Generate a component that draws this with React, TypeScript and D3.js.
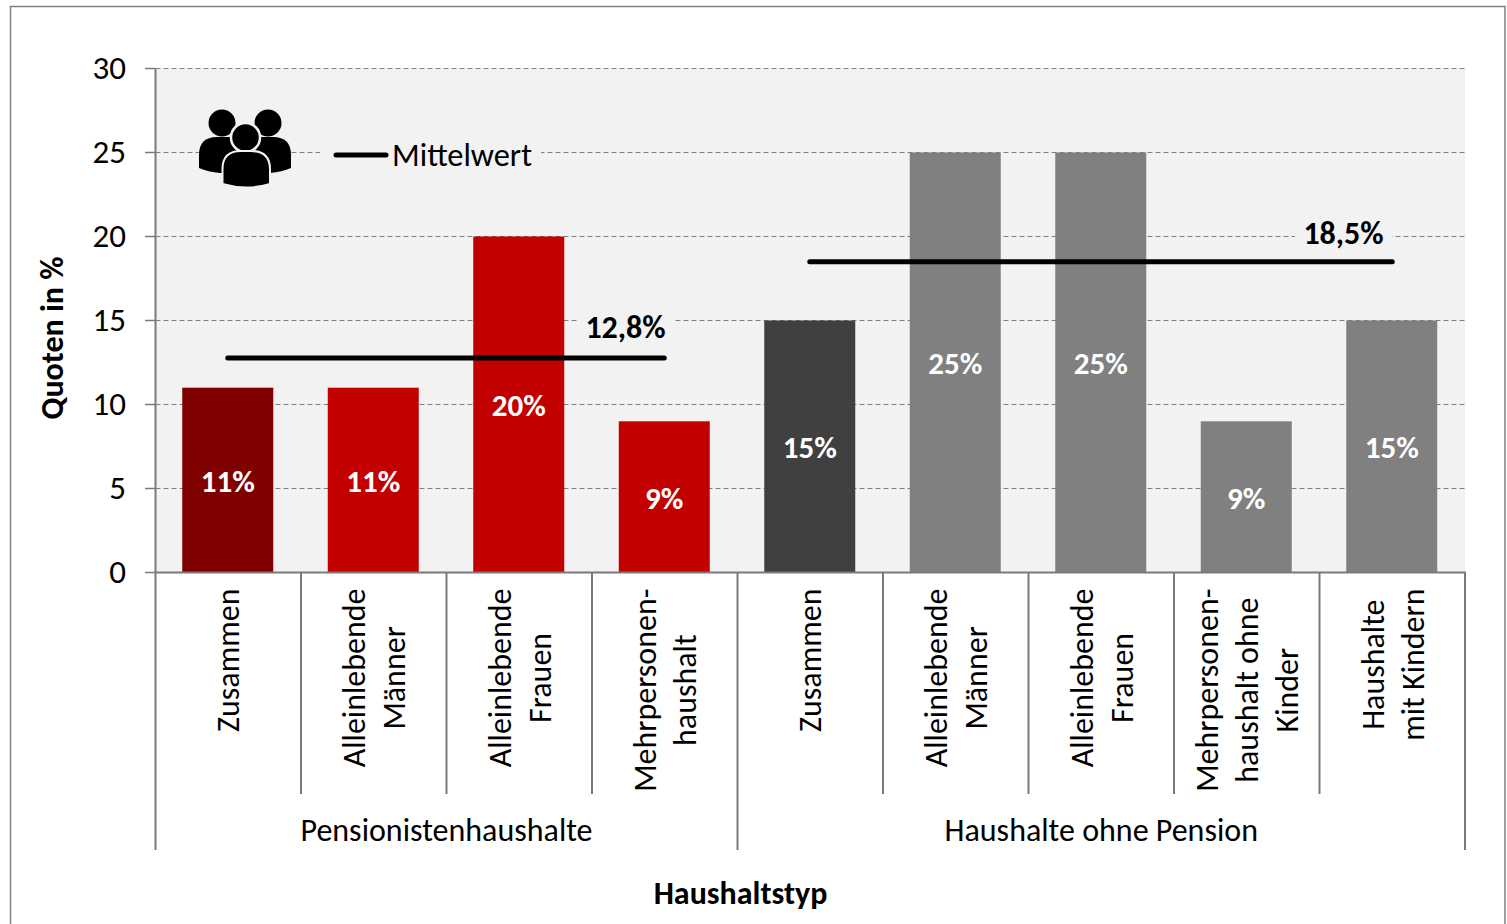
import React from "react";
import * as d3 from "d3";

const categories = [
  ["Zusammen"],
  ["Alleinlebende", "Männer"],
  ["Alleinlebende", "Frauen"],
  ["Mehrpersonen-", "haushalt"],
  ["Zusammen"],
  ["Alleinlebende", "Männer"],
  ["Alleinlebende", "Frauen"],
  ["Mehrpersonen-", "haushalt ohne", "Kinder"],
  ["Haushalte", "mit Kindern"],
];
const values = [11, 11, 20, 9, 15, 25, 25, 9, 15];
const barColors = ["#800000", "#c30000", "#c30000", "#c30000", "#404040", "#808080", "#808080", "#808080", "#808080"];
const groups = ["Pensionistenhaushalte", "Haushalte ohne Pension"];
const groupSpans = [[0, 3], [4, 8]];
const means = [12.8, 18.5];
const meanLabels = ["12,8%", "18,5%"];
const yTicks = [0, 5, 10, 15, 20, 25, 30];

const FONT = "Carlito, Calibri, Lato, sans-serif";
const W = 1507, H = 924;
const plot = { left: 155.5, right: 1465, top: 68.5, bottom: 572.5 };
const AXIS = "#7a7a7a";
const BG = "#f2f2f2";

const x = d3.scaleBand<number>().domain(d3.range(values.length)).range([plot.left, plot.right]).paddingInner(0).paddingOuter(0);
const y = d3.scaleLinear().domain([0, 30]).range([plot.bottom, plot.top]);

const measure = (() => {
  const c = typeof document !== "undefined" ? document.createElement("canvas").getContext("2d") : null;
  return (t: string, size: number) => {
    if (!c) return t.length * size * 0.5;
    c.font = `${size}px ${FONT}`;
    return c.measureText(t).width;
  };
})();

const barW = 91;
const catSize = 32;

function Icon() {
  return (
    <g fill="#000">
      <circle cx={222} cy={123} r={13.5} />
      <circle cx={268} cy={123} r={13.5} />
      <path d="M199,168 V155 Q199,137 217,137 H273 Q291,137 291,155 V168 Q282,172 270,173 H220 Q208,172 199,168 Z" />
      <circle cx={245.5} cy={137.5} r={14.5} stroke={BG} strokeWidth={2.5} />
      <path d="M222.5,184 V169 Q222.5,151 241,151 H251 Q270,151 270,169 V184 Q246,191 222.5,184 Z" stroke={BG} strokeWidth={2} />
    </g>
  );
}

export default function App() {
  const bw = x.bandwidth();
  const edges = d3.range(values.length + 1).map((i) => plot.left + i * bw);
  const cx = (i: number) => (x(i) as number) + bw / 2;
  return (
    <svg width={W} height={H} viewBox={`0 0 ${W} ${H}`} fontFamily={FONT}
      style={{ position: "absolute", left: 0, top: 0, display: "block", background: "#fff" }}>
      <rect x={10.5} y={6.5} width={1494.5} height={960} fill="#fff" stroke="#7f7f7f" strokeWidth={1.5} />
      <rect x={plot.left} y={plot.top} width={plot.right - plot.left} height={plot.bottom - plot.top} fill={BG} />

      {yTicks.filter((t) => t > 0).map((t) => (
        <line key={t} x1={plot.left} x2={plot.right} y1={y(t)} y2={y(t)} stroke="#808080" strokeWidth={1} strokeDasharray="5 3" />
      ))}
      {/* label backgrounds interrupt the grid */}
      <rect x={320} y={y(25) - 10} width={221} height={20} fill={BG} />
      <rect x={577} y={y(15) - 10} width={98} height={20} fill={BG} />
      <rect x={1295} y={y(20) - 10} width={97} height={20} fill={BG} />

      {values.map((v, i) => (
        <rect key={i} x={cx(i) - barW / 2 - 0.5} y={y(v)} width={barW} height={y(0) - y(v)} fill={barColors[i]} />
      ))}
      {values.map((v, i) => (
        <text key={i} x={cx(i) - 0.5} y={(y(v) + y(0)) / 2} dy="0.38em" textAnchor="middle" fontSize={31} fontWeight={700} fill="#fff">{`${v}%`}</text>
      ))}

      {/* axes */}
      <line x1={plot.left} x2={plot.left} y1={plot.top} y2={plot.bottom} stroke={AXIS} strokeWidth={2} />
      <line x1={plot.left} x2={plot.right + 1} y1={plot.bottom} y2={plot.bottom} stroke={AXIS} strokeWidth={2} />
      {yTicks.map((t) => (
        <g key={t}>
          <line x1={145} x2={plot.left} y1={y(t)} y2={y(t)} stroke={AXIS} strokeWidth={1.5} />
          <text x={126} y={y(t) - 0.5} dy="0.33em" textAnchor="end" fontSize={33} fill="#000">{t}</text>
        </g>
      ))}
      {edges.map((e, i) => {
        const major = i === 0 || i === 4 || i === 9;
        return <line key={i} x1={e} x2={e} y1={plot.bottom} y2={major ? 850 : 794} stroke={AXIS} strokeWidth={2} />;
      })}

      {categories.map((lines, i) => {
        const blockLen = Math.max(...lines.map((l) => measure(l, catSize)));
        const cy = 588.5 + blockLen / 2;
        const step = 40;
        const x0 = cx(i) + 0.5 + (lines.length === 2 ? 0.5 : 0) - ((lines.length - 1) * step) / 2;
        return lines.map((l, k) => (
          <text key={`${i}-${k}`} transform={`translate(${x0 + k * step},${cy}) rotate(-90)`} dy="0.33em" textAnchor="middle" fontSize={catSize} fill="#000">{l}</text>
        ));
      })}

      {groups.map((g, i) => {
        const [a, b] = groupSpans[i];
        return (
          <text key={g} x={(edges[a] + edges[b + 1]) / 2} y={830} dy="0.33em" textAnchor="middle" fontSize={catSize} fill="#000">{g}</text>
        );
      })}

      {/* mean lines */}
      {means.map((m, i) => {
        const [a, b] = groupSpans[i];
        return <line key={i} x1={cx(a) - 0.5} x2={cx(b) - 0.5 * (1 - i)} y1={y(m) + 0.5 * (1 - i)} y2={y(m) + 0.5 * (1 - i)} stroke="#000" strokeWidth={5} strokeLinecap="round" />;
      })}
      <text x={625.5} y={y(15) + 7} dy="0.33em" textAnchor="middle" fontSize={32} fontWeight={700} fill="#000">{meanLabels[0]}</text>
      <text x={1343.5} y={y(20) - 3} dy="0.33em" textAnchor="middle" fontSize={32} fontWeight={700} fill="#000">{meanLabels[1]}</text>

      {/* legend */}
      <Icon />
      <line x1={336} x2={386} y1={155} y2={155} stroke="#000" strokeWidth={5} strokeLinecap="round" />
      <text x={392} y={155} dy="0.33em" fontSize={32.4} fill="#000">Mittelwert</text>

      <text transform={`translate(52,338) rotate(-90)`} dy="0.33em" textAnchor="middle" fontSize={32} fontWeight={700} fill="#000">Quoten in %</text>
      <text x={740.5} y={893} dy="0.33em" textAnchor="middle" fontSize={32} fontWeight={700} fill="#000">Haushaltstyp</text>
    </svg>
  );
}
